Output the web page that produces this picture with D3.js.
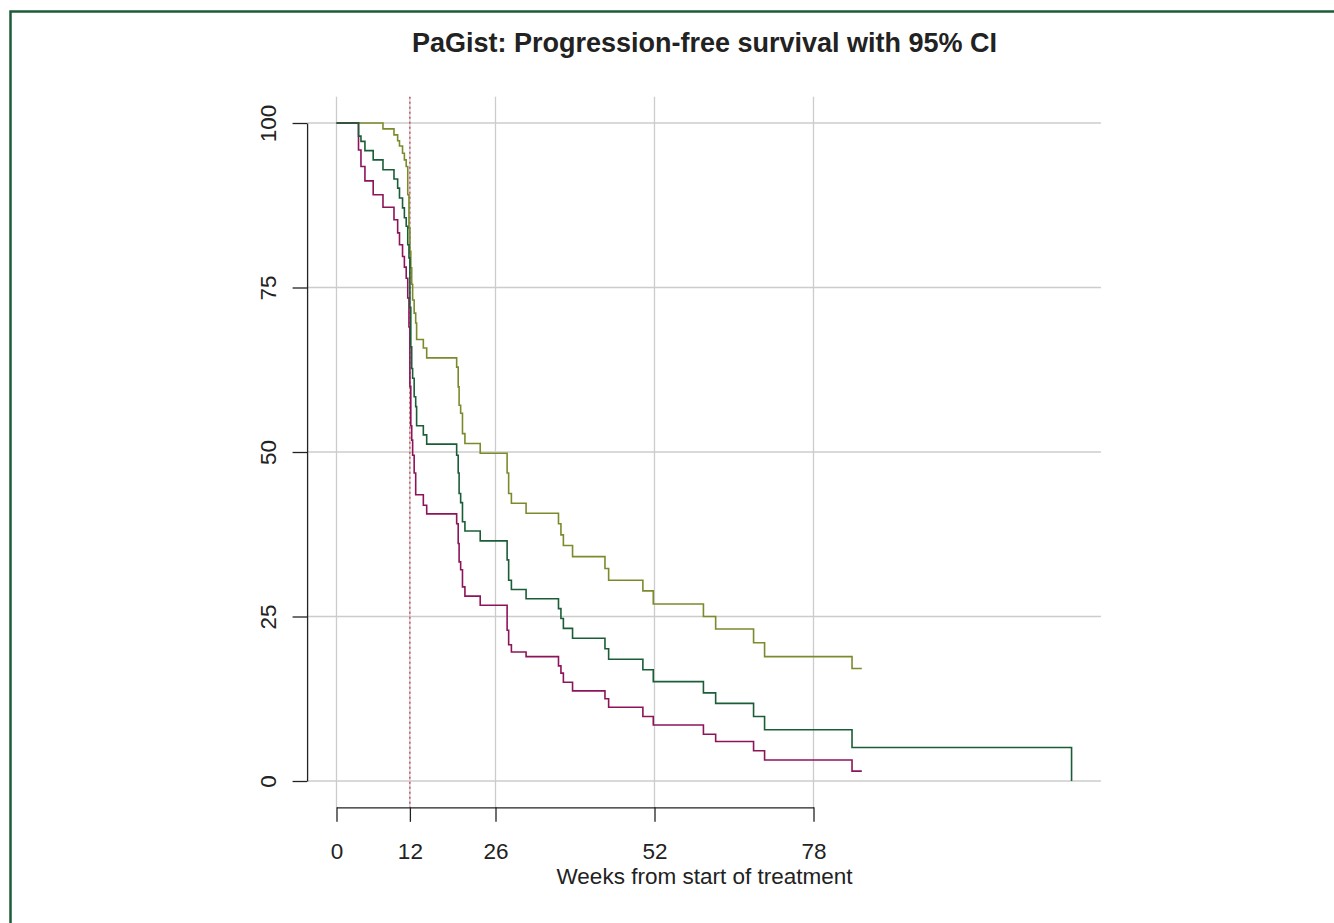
<!DOCTYPE html>
<html>
<head>
<meta charset="utf-8">
<script src="https://cdn.jsdelivr.net/npm/d3@7"></script>
<style>
  html, body { margin: 0; padding: 0; background: #fff; overflow: hidden; }
  svg { display: block; font-family: "Liberation Sans", Arial, sans-serif; }
</style>
</head>
<body>
<div id="chart"></div>
<script>
/* ═══ PaGist — PFS step curves with 95% CI ═══ */

// ── Data ──
const weeks = [0, 3.6, 4.0, 4.65, 6.0, 7.6, 9.4, 10.0, 10.3, 10.8, 11.1, 11.4, 11.65, 11.85, 12.0, 12.15,
  12.3, 12.45, 12.7, 12.95, 13.1, 14.2, 14.75, 19.65, 19.9, 20.05, 20.3, 20.6, 21.0, 23.5, 27.9, 28.15,
  28.6, 31.0, 36.3, 36.7, 37.1, 38.6, 43.9, 44.5, 50.1, 51.8, 60.0, 62.0, 68.2, 70.0, 84.3];

const upper = [100, 100, 100, 100, 100, 99.1, 98.2, 97.3, 96.5, 95.4, 94.4, 93.4, 89.1, 84.0, 80.5, 78.0,
  75.5, 73.1, 71.1, 69.6, 67.1, 65.8, 64.3, 62.9, 59.9, 57.1, 55.9, 52.8, 51.3, 49.8, 46.8, 43.7,
  42.2, 40.7, 39.1, 37.4, 35.8, 34.1, 32.3, 30.5, 28.9, 26.9, 25.0, 23.1, 21.0, 18.9, 17.1];

const estimate = [100, 98.0, 97.2, 95.8, 94.4, 92.9, 91.5, 90.1, 88.6, 87.1, 85.6, 84.3, 81.5, 79.5, 72.0, 66.0,
  62.7, 61.2, 58.4, 56.9, 54.0, 52.6, 51.2, 49.5, 46.8, 43.7, 42.3, 39.4, 38.0, 36.5, 33.6, 30.5,
  29.1, 27.7, 26.2, 24.7, 23.2, 21.7, 20.1, 18.5, 16.9, 15.1, 13.4, 11.8, 9.8, 7.8, 5.1];

const lower = [100, 95.9, 93.4, 91.2, 89.1, 87.2, 85.3, 83.3, 81.5, 79.7, 78.1, 76.4, 73.4, 69.0, 60.0, 54.0,
  51.8, 49.5, 46.8, 43.5, 43.5, 41.9, 40.6, 39.1, 36.1, 33.3, 32.1, 29.5, 28.1, 26.7, 22.9, 20.7,
  19.6, 18.9, 17.5, 16.4, 15.0, 13.7, 12.5, 11.2, 9.8, 8.5, 7.1, 6.0, 4.6, 3.2, 1.5];

const ciEnd = 85.9;        // last follow-up for the CI curves
const lastEvent = 120.2;   // estimate drops to 0 here

const xTicks = [0, 12, 26, 52, 78];
const yTicks = [0, 25, 50, 75, 100];
const landmark = 12;

const W = 1334, H = 923;

const svg = d3.select('#chart').append('svg')
  .attr('width', W).attr('height', H);

// Frame
svg.append('rect')
  .attr('x', 10.5).attr('y', 11.5).attr('width', 1400).attr('height', 1000)
  .attr('fill', 'none').attr('stroke', '#1e5b37').attr('stroke-width', 2.5);

// ── Scales (plot region = data range + 4% like R) ──
const x = d3.scaleLinear().domain([0, 78]).range([336.5, 813.5]);
const y = d3.scaleLinear().domain([0, 100]).range([781, 123]);
const xMin = -4.81, xMax = 125.0, yMin = -4, yMax = 104;

// ── Grid ──
const grid = svg.append('g').attr('stroke', '#cccccc').attr('stroke-width', 1.3);
grid.selectAll('line.h').data(yTicks).join('line').attr('class', 'h')
  .attr('x1', x(xMin)).attr('x2', x(xMax))
  .attr('y1', d => y(d)).attr('y2', d => y(d));
grid.selectAll('line.v').data(xTicks).join('line').attr('class', 'v')
  .attr('x1', d => x(d)).attr('x2', d => x(d))
  .attr('y1', y(yMax)).attr('y2', y(yMin));

// Landmark at 12 weeks
svg.append('line')
  .attr('x1', x(landmark)).attr('x2', x(landmark))
  .attr('y1', y(yMax)).attr('y2', y(yMin))
  .attr('stroke', '#c0283a').attr('stroke-width', 1.1).attr('stroke-dasharray', '2,3');

// ── Curves ──
const step = d3.line().x(d => x(d[0])).y(d => y(d[1])).curve(d3.curveStepAfter);

const series = [
  { vals: upper,    color: '#7b8b2c', tail: [[ciEnd, upper[upper.length - 1]]] },
  { vals: lower,    color: '#8c1458', tail: [[ciEnd, lower[lower.length - 1]]] },
  { vals: estimate, color: '#1b5d37', tail: [[lastEvent, estimate[estimate.length - 1]], [lastEvent, 0]] }
];

svg.append('g').selectAll('path').data(series).join('path')
  .attr('d', s => step(weeks.map((w, i) => [w, s.vals[i]]).concat(s.tail)))
  .attr('fill', 'none')
  .attr('stroke', s => s.color)
  .attr('stroke-width', 1.6);

// ── Axes ──
const xAxis = svg.append('g').attr('transform', `translate(0,${y(yMin)})`)
  .call(d3.axisBottom(x).tickValues(xTicks).tickSize(14.5).tickPadding(22).tickSizeOuter(0));
const yAxis = svg.append('g').attr('transform', `translate(${x(xMin)},0)`)
  .call(d3.axisLeft(y).tickValues(yTicks).tickSize(14.5).tickSizeOuter(0));

[xAxis, yAxis].forEach(a => {
  a.select('.domain').attr('stroke', '#222').attr('stroke-width', 1.3);
  a.selectAll('.tick line').attr('stroke', '#222').attr('stroke-width', 1.3);
  a.selectAll('.tick text').attr('fill', '#222')
    .style('font-size', '22.5px').style('font-family', '"Liberation Sans", Arial, sans-serif');
});

// R-style rotated y labels
yAxis.selectAll('.tick text')
  .attr('x', null).attr('dy', null)
  .attr('text-anchor', 'middle')
  .attr('transform', `translate(${276 - x(xMin)},0) rotate(-90)`);

xAxis.selectAll('.tick text').attr('dy', null).attr('y', 859 - y(yMin));

// ── Titles ──
svg.append('text')
  .attr('x', 704.5).attr('y', 52)
  .attr('text-anchor', 'middle')
  .attr('font-size', '27px').attr('font-weight', 'bold').attr('fill', '#222')
  .text('PaGist: Progression-free survival with 95% CI');

svg.append('text')
  .attr('x', 704.5).attr('y', 884)
  .attr('text-anchor', 'middle')
  .attr('font-size', '22.5px').attr('fill', '#222')
  .text('Weeks from start of treatment');
</script>
</body>
</html>
